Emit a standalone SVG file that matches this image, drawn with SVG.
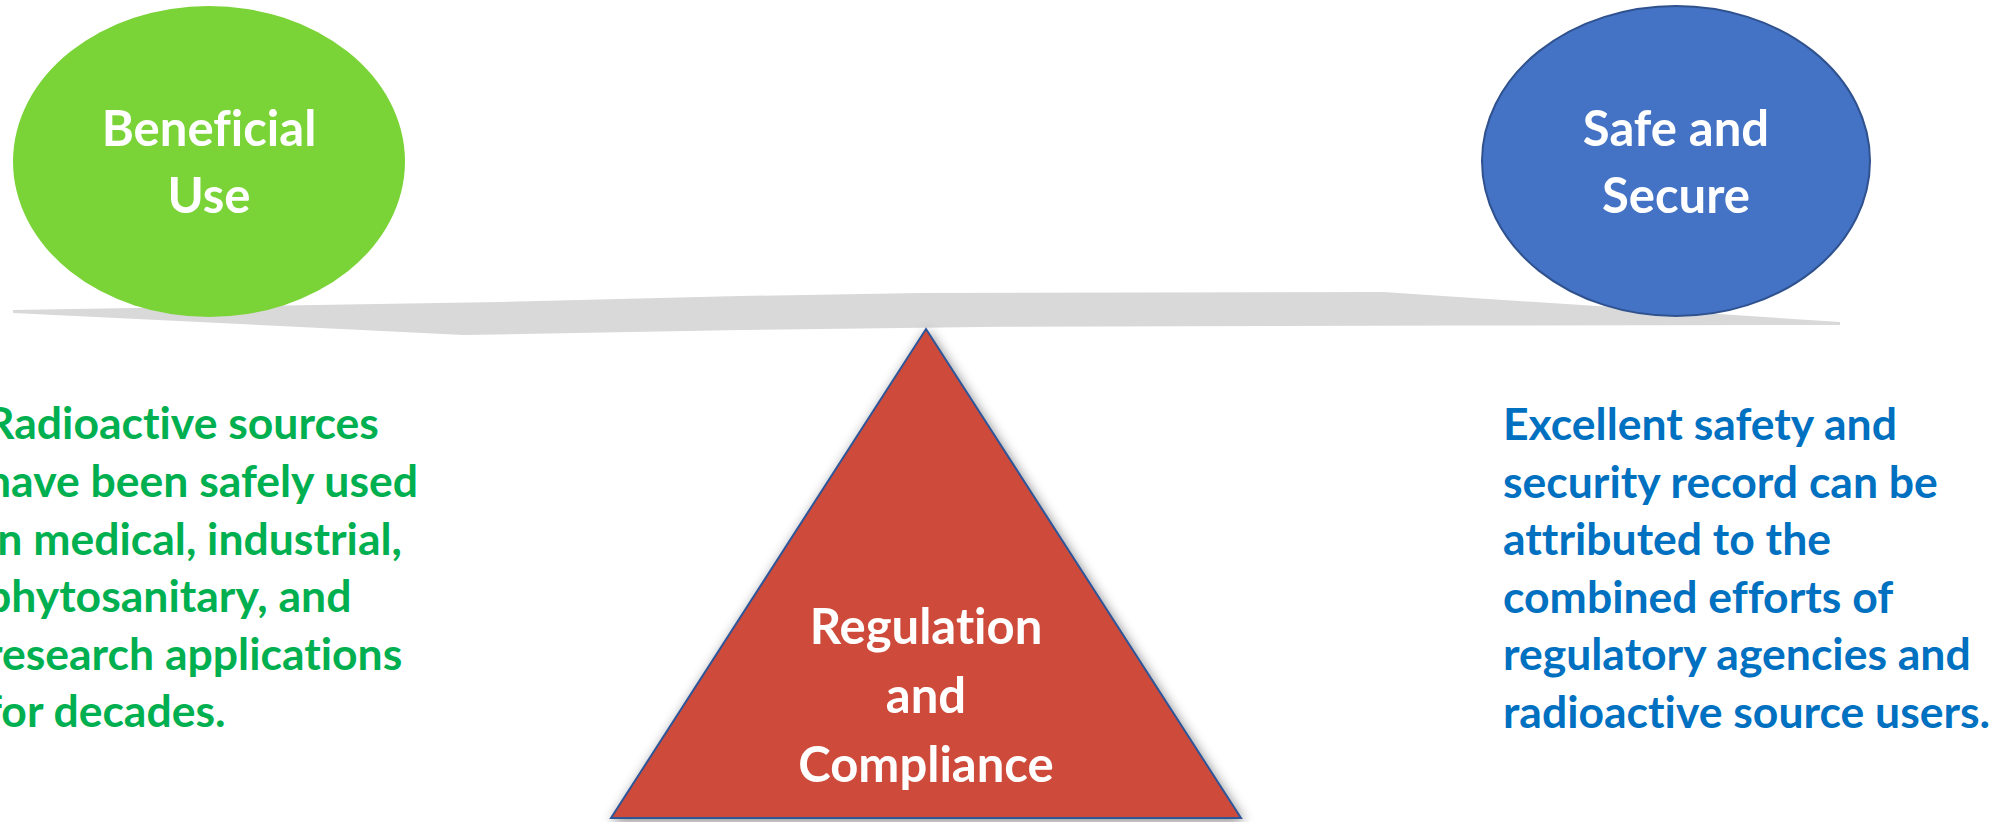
<svg xmlns="http://www.w3.org/2000/svg" width="2011" height="822" viewBox="0 0 2011 822">
<defs>
<style>
text{font-variant-ligatures:none;font-feature-settings:"liga" 0,"clig" 0}
.lbl{font-family:Lato,"Open Sans","Liberation Sans",sans-serif;font-weight:700;font-size:49px;fill:#ffffff;text-anchor:middle}
.body{font-family:Lato,"Open Sans","Liberation Sans",sans-serif;font-weight:700;font-size:44.5px}
.green{fill:#00B050}
.blue{fill:#0070C0}
</style>
<filter id="shadow" x="-20%" y="-20%" width="140%" height="140%">
<feGaussianBlur in="SourceAlpha" stdDeviation="6"/>
<feOffset dx="2" dy="3" result="b"/>
<feFlood flood-color="#000000" flood-opacity="0.45"/>
<feComposite in2="b" operator="in"/>
<feMerge><feMergeNode/><feMergeNode in="SourceGraphic"/></feMerge>
</filter>
</defs>
<rect width="2011" height="822" fill="#ffffff"/>
<g id="beam">
<polygon points="13,310 500,302 740,296 920,293 1383,292 1840,322 1840,325 1470,325.5 1000,326.7 740,330 464,335 13,313" fill="#D9D9D9"/>
</g>
<g id="fulcrum">
<polygon points="926,329 1241,818 611,818" fill="#CE4B3B" stroke="#2F5597" stroke-width="2" filter="url(#shadow)"/>
<text class="lbl" x="926" y="644">Regulation</text>
<text class="lbl" x="926" y="713">and</text>
<text class="lbl" x="926" y="782">Compliance</text>
</g>
<g id="beneficial-use">
<ellipse cx="209" cy="161.5" rx="196" ry="155.5" fill="#7AD337"/>
<text class="lbl" x="209" y="146">Beneficial</text>
<text class="lbl" x="209" y="213">Use</text>
</g>
<g id="safe-secure">
<ellipse cx="1676" cy="161" rx="194" ry="155" fill="#4472C4" stroke="#2F528F" stroke-width="2"/>
<text class="lbl" x="1676" y="146">Safe and</text>
<text class="lbl" x="1676" y="213">Secure</text>
</g>
<g id="left-text" class="body green">
<text x="-14" y="439">Radioactive sources</text>
<text x="-14" y="496.5">have been safely used</text>
<text x="-14" y="554.5">in medical, industrial,</text>
<text x="-14" y="612">phytosanitary, and</text>
<text x="-14" y="669.5">research applications</text>
<text x="-14" y="727">for decades.</text>
</g>
<g id="right-text" class="body blue">
<text x="1503" y="440">Excellent safety and</text>
<text x="1503" y="497.5">security record can be</text>
<text x="1503" y="555">attributed to the</text>
<text x="1503" y="612.5">combined efforts of</text>
<text x="1503" y="670">regulatory agencies and</text>
<text x="1503" y="727.5">radioactive source users.</text>
</g>
<g id="connectors"></g>
</svg>
